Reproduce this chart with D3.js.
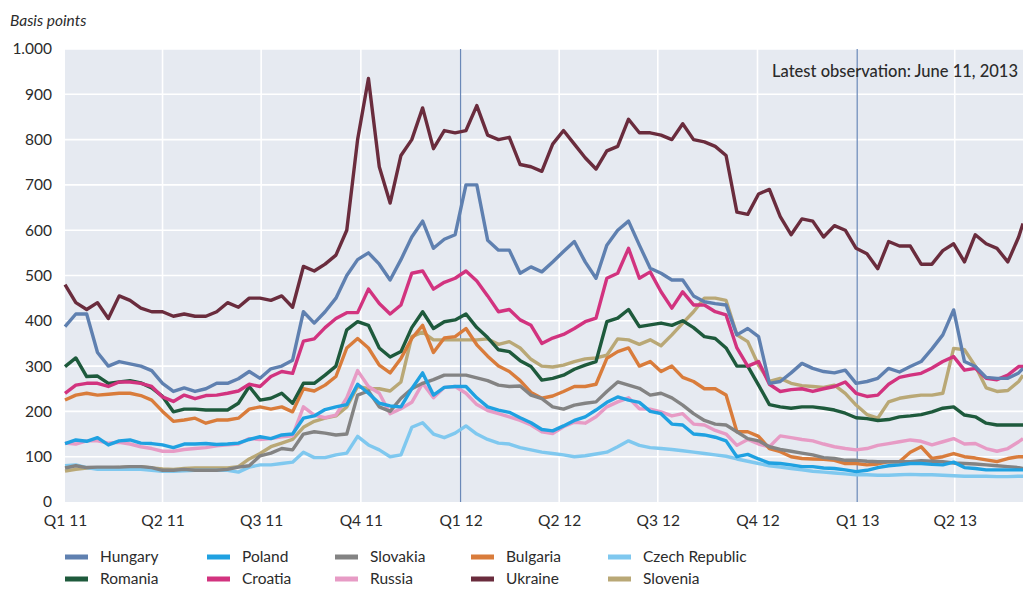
<!DOCTYPE html>
<html>
<head>
<meta charset="utf-8">
<script src="https://cdn.jsdelivr.net/npm/d3@7"></script>
<style>
  body { margin: 0; background: #fff; }
  text { font-family: Lato, "Open Sans", sans-serif; fill: #2b2b2b; }
</style>
</head>
<body>
<div id="chart"></div>
<script>
// CDS spreads, basis points, one value every 10 days from 1 Jan 2011

var startDate = new Date(2011, 0, 1);
var endDate = new Date(2013, 5, 3);

var quarterLabels = ["Q1 11", "Q2 11", "Q3 11", "Q4 11", "Q1 12", "Q2 12", "Q3 12", "Q4 12", "Q1 13", "Q2 13"];
var yTicks = [0, 100, 200, 300, 400, 500, 600, 700, 800, 900, 1000];

var hungary = [387, 415, 415, 330, 300, 310, 305, 300, 290, 262, 244, 252, 244, 250, 262, 262, 272, 288, 273, 294,
  300, 313, 420, 395, 420, 450, 500, 535, 550, 525, 490, 535, 585, 620, 560, 580, 590, 700, 700, 578,
  556, 556, 505, 519, 508, 530, 553, 575, 530, 494, 567, 600, 620, 567, 516, 505, 490, 490, 455, 442,
  438, 435, 369, 383, 365, 262, 266, 285, 306, 295, 288, 285, 291, 262, 266, 273, 295, 287, 299, 310,
  338, 369, 424, 310, 299, 275, 273, 273, 285, 295];

var romania = [299, 318, 277, 278, 262, 265, 268, 263, 252, 233, 199, 205, 205, 203, 203, 203, 218, 255, 225, 229,
  240, 218, 262, 262, 280, 300, 380, 398, 390, 340, 320, 332, 385, 420, 383, 398, 402, 415, 385, 363,
  336, 332, 312, 299, 269, 273, 280, 293, 302, 310, 398, 406, 425, 387, 391, 395, 390, 400, 385, 365,
  361, 340, 300, 300, 258, 215, 210, 207, 210, 210, 207, 203, 196, 186, 184, 180, 182, 188, 190, 193,
  199, 207, 210, 192, 188, 174, 170, 170, 170, 170];

var poland = [129, 137, 134, 142, 126, 135, 137, 130, 129, 126, 120, 128, 128, 129, 127, 128, 130, 138, 144, 140,
  148, 150, 185, 190, 204, 210, 215, 260, 240, 218, 212, 210, 250, 285, 236, 253, 255, 255, 230, 210,
  203, 198, 186, 175, 160, 157, 168, 180, 188, 203, 220, 232, 225, 220, 200, 195, 172, 170, 150, 148,
  143, 135, 100, 105, 95, 86, 85, 82, 78, 78, 75, 74, 71, 67, 70, 76, 80, 82, 85, 85,
  83, 82, 88, 76, 74, 71, 71, 71, 71, 71];

var croatia = [240, 258, 262, 262, 255, 265, 265, 262, 255, 232, 222, 236, 228, 235, 236, 240, 245, 260, 255, 277,
  288, 284, 355, 360, 385, 405, 418, 418, 470, 438, 415, 435, 505, 510, 470, 485, 494, 510, 488, 455,
  420, 425, 402, 390, 350, 362, 370, 383, 398, 406, 494, 505, 560, 494, 508, 464, 428, 464, 435, 435,
  420, 413, 340, 300, 310, 260, 244, 248, 250, 244, 250, 255, 265, 240, 233, 236, 260, 275, 280, 284,
  296, 310, 321, 291, 295, 273, 270, 280, 299, 299];

var slovakia = [75, 80, 76, 77, 77, 77, 78, 78, 76, 70, 70, 72, 70, 70, 70, 72, 77, 80, 102, 108,
  118, 115, 150, 155, 152, 148, 150, 236, 245, 210, 200, 229, 250, 262, 270, 280, 280, 280, 274, 268,
  258, 255, 256, 236, 228, 210, 205, 214, 218, 221, 244, 265, 258, 251, 236, 240, 230, 214, 195, 180,
  172, 170, 155, 140, 135, 122, 116, 112, 108, 104, 98, 96, 92, 92, 90, 89, 89, 89, 89, 91,
  90, 89, 86, 85, 84, 82, 80, 78, 76, 74];

var russia = [130, 128, 135, 135, 130, 132, 128, 122, 118, 112, 112, 116, 118, 120, 124, 126, 128, 140, 138, 140,
  144, 146, 210, 192, 186, 192, 230, 290, 255, 240, 195, 206, 220, 262, 230, 253, 255, 240, 215, 202,
  195, 188, 180, 170, 155, 151, 166, 176, 174, 188, 210, 221, 230, 206, 205, 199, 190, 195, 172, 170,
  158, 150, 125, 138, 128, 122, 146, 142, 138, 135, 128, 122, 118, 115, 118, 125, 129, 133, 137, 134,
  126, 133, 140, 128, 129, 118, 112, 118, 133, 140];

var bulgaria = [225, 236, 240, 236, 238, 240, 240, 235, 225, 200, 178, 181, 185, 174, 181, 181, 185, 205, 210, 205,
  210, 199, 250, 245, 258, 277, 340, 361, 340, 302, 285, 317, 361, 390, 330, 362, 365, 383, 347, 322,
  300, 288, 268, 242, 229, 234, 244, 255, 255, 260, 317, 332, 340, 300, 310, 288, 300, 275, 266, 250,
  250, 236, 155, 155, 145, 118, 111, 100, 96, 95, 94, 92, 85, 85, 82, 84, 89, 89, 110, 122,
  96, 100, 107, 100, 97, 93, 89, 96, 100, 100];

var ukraine = [480, 440, 425, 440, 405, 455, 445, 428, 420, 420, 410, 415, 410, 410, 420, 440, 430, 450, 450, 445,
  455, 430, 520, 510, 525, 545, 600, 800, 935, 740, 660, 765, 800, 870, 780, 820, 815, 820, 875, 810,
  800, 805, 745, 740, 730, 790, 820, 790, 760, 735, 775, 785, 845, 815, 815, 810, 800, 835, 800, 795,
  785, 765, 640, 635, 680, 690, 630, 590, 625, 620, 585, 610, 600, 560, 548, 515, 575, 565, 565, 525,
  525, 555, 570, 530, 590, 570, 560, 530, 585, 615];

var czech = [80, 82, 76, 72, 72, 72, 73, 72, 70, 68, 68, 69, 70, 70, 70, 70, 66, 77, 82, 82,
  85, 88, 110, 98, 98, 104, 108, 145, 126, 115, 100, 104, 165, 175, 150, 142, 152, 168, 150, 138,
  130, 128, 120, 115, 110, 107, 104, 100, 102, 106, 110, 122, 135, 125, 120, 118, 116, 113, 110, 107,
  104, 101, 95, 90, 85, 80, 77, 74, 71, 68, 66, 64, 62, 60, 60, 59, 59, 60, 61, 60,
  60, 59, 58, 57, 57, 57, 56, 56, 57, 57];

var slovenia = [68, 72, 75, 75, 75, 76, 78, 78, 75, 73, 72, 74, 75, 75, 75, 75, 78, 95, 107, 122,
  130, 138, 165, 178, 185, 190, 210, 255, 250, 250, 245, 265, 365, 375, 358, 358, 358, 358, 358, 360,
  348, 354, 340, 315, 300, 298, 302, 310, 316, 318, 324, 360, 358, 348, 358, 345, 369, 395, 420, 450,
  450, 445, 369, 354, 302, 266, 273, 262, 257, 255, 253, 258, 240, 214, 193, 185, 221, 229, 233, 236,
  236, 240, 339, 336, 300, 252, 244, 246, 266, 280];

// one date every 10 days, last one at the end of the window
var dates = d3.range(hungary.length - 1).map(function(i) { return d3.timeDay.offset(startDate, i * 10); });
dates.push(endDate);

var series = [
  {name: "Slovenia", values: slovenia, color: "#b9a876"},
  {name: "Czech Republic", values: czech, color: "#7fc8ef"},
  {name: "Russia", values: russia, color: "#e79bc5"},
  {name: "Bulgaria", values: bulgaria, color: "#d97c3b"},
  {name: "Slovakia", values: slovakia, color: "#838383"},
  {name: "Poland", values: poland, color: "#1fa1e1"},
  {name: "Romania", values: romania, color: "#1e5a3c"},
  {name: "Croatia", values: croatia, color: "#d2337f"},
  {name: "Hungary", values: hungary, color: "#5f80b0"},
  {name: "Ukraine", values: ukraine, color: "#6a2c3d"}
];

var legendRows = [
  ["Hungary", "Poland", "Slovakia", "Bulgaria", "Czech Republic"],
  ["Romania", "Croatia", "Russia", "Ukraine", "Slovenia"]
];
var legendX = [65, 207, 335, 471, 608];
var legendY = [557, 579];

var svgWidth = 1023;
var svgHeight = 590;

var margin = {top: 49, right: 0, bottom: 88, left: 65};
var width = svgWidth - margin.left - margin.right;
var height = svgHeight - margin.top - margin.bottom;

var svg = d3.select("#chart")
  .append("svg")
  .attr("width", svgWidth)
  .attr("height", svgHeight);

var chartGroup = svg.append("g")
  .attr("transform", `translate(${margin.left}, ${margin.top})`);

var xScale = d3.scaleTime()
  .domain([startDate, endDate])
  .range([0, width]);

var yScale = d3.scaleLinear()
  .domain([0, 1000])
  .range([height, 0]);

var quarters = d3.timeMonth.range(startDate, endDate, 3);

// plot background
chartGroup.append("rect")
  .attr("width", width)
  .attr("height", height)
  .attr("fill", "#e6eaf1");

// horizontal grid
chartGroup.selectAll("line.hgrid")
  .data(yTicks.slice(1))
  .enter()
  .append("line")
  .attr("class", "hgrid")
  .attr("x1", 0)
  .attr("x2", width)
  .attr("y1", d => yScale(d))
  .attr("y2", d => yScale(d))
  .attr("stroke", "#fff")
  .attr("stroke-width", 1.6);

// vertical grid, year starts in blue
chartGroup.selectAll("line.vgrid")
  .data(quarters.slice(1))
  .enter()
  .append("line")
  .attr("class", "vgrid")
  .attr("x1", d => xScale(d))
  .attr("x2", d => xScale(d))
  .attr("y1", 0)
  .attr("y2", height)
  .attr("stroke", d => d.getMonth() === 0 ? "#6a88b8" : "#fff")
  .attr("stroke-width", d => d.getMonth() === 0 ? 1.2 : 1.6);

// axes
var dotFormat = d3.formatLocale({decimal: ",", thousands: ".", grouping: [3], currency: ["", ""]}).format(",");

var leftAxis = d3.axisLeft(yScale)
  .tickValues(yTicks)
  .tickSize(0)
  .tickPadding(13)
  .tickFormat(dotFormat);

var bottomAxis = d3.axisBottom(xScale)
  .tickValues(quarters)
  .tickSize(0)
  .tickPadding(13)
  .tickFormat((d, i) => quarterLabels[i]);

var yAxisG = chartGroup.append("g").call(leftAxis);
var xAxisG = chartGroup.append("g")
  .attr("transform", `translate(0, ${height})`)
  .call(bottomAxis);

[yAxisG, xAxisG].forEach(function(g) {
  g.select(".domain").remove();
  g.selectAll("text")
    .attr("font-size", "15.5px")
    .style("font-family", "Lato, sans-serif")
    .attr("fill", "#2b2b2b");
});

// lines
var line = d3.line()
  .x((d, i) => xScale(dates[i]))
  .y(d => yScale(d));

chartGroup.selectAll("path.series")
  .data(series)
  .enter()
  .append("path")
  .attr("class", "series")
  .attr("d", d => line(d.values))
  .attr("fill", "none")
  .attr("stroke", d => d.color)
  .attr("stroke-width", 3.4)
  .attr("stroke-linejoin", "round");

// annotation
chartGroup.append("text")
  .attr("x", width - 5)
  .attr("y", 28)
  .attr("text-anchor", "end")
  .attr("font-size", "16.5px")
  .attr("font-weight", 500)
  .attr("fill", "#1a1a1a")
  .text("Latest observation: June 11, 2013");

// unit label
svg.append("text")
  .attr("x", 10)
  .attr("y", 26)
  .attr("font-size", "15.5px")
  .attr("font-style", "italic")
  .text("Basis points");

// legend
var colorOf = {};
series.forEach(s => { colorOf[s.name] = s.color; });

legendRows.forEach(function(row, r) {
  row.forEach(function(name, c) {
    var g = svg.append("g")
      .attr("transform", `translate(${legendX[c]}, ${legendY[r]})`);
    g.append("rect")
      .attr("x", 0)
      .attr("y", -2.5)
      .attr("width", 23)
      .attr("height", 5)
      .attr("fill", colorOf[name]);
    g.append("text")
      .attr("x", 35)
      .attr("y", 0)
      .attr("dy", "0.35em")
      .attr("font-size", "15.5px")
      .text(name);
  });
});
</script>
</body>
</html>
